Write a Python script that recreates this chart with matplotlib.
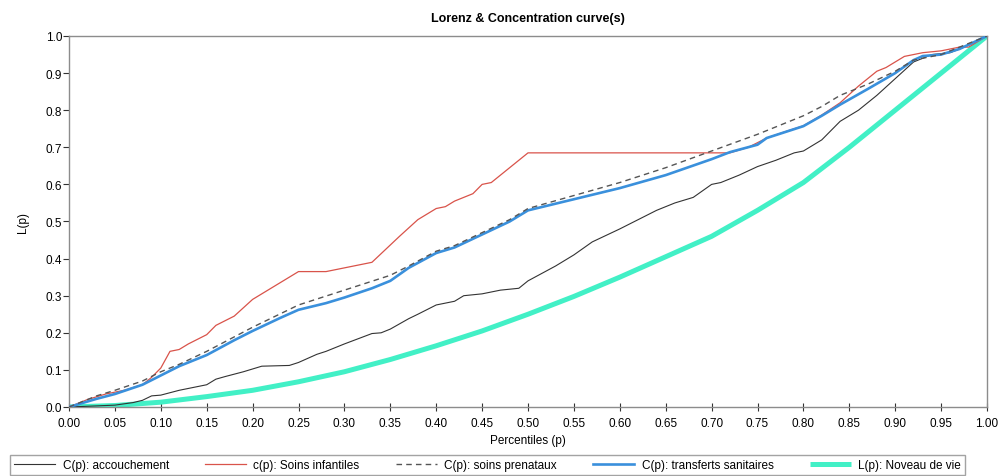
"""lorenz and concentration curves"""

import matplotlib

matplotlib.use("Agg")
import matplotlib.pyplot as plt
from matplotlib.ticker import FormatStrFormatter, MultipleLocator

plt.rcParams["font.family"] = ["Liberation Sans", "DejaVu Sans"]

# C(p): accouchement
p_accouchement = [0, 0.05, 0.07, 0.08, 0.09, 0.10, 0.12, 0.15, 0.16, 0.17, 0.19, 0.21,
                  0.24, 0.25, 0.27, 0.28, 0.30, 0.33, 0.34, 0.35, 0.37, 0.38, 0.40, 0.42,
                  0.43, 0.45, 0.47, 0.49, 0.50, 0.53, 0.55, 0.57, 0.60, 0.62, 0.64, 0.66,
                  0.68, 0.70, 0.71, 0.73, 0.75, 0.77, 0.79, 0.80, 0.82, 0.84, 0.86, 0.88,
                  0.90, 0.92, 0.94, 0.96, 0.98, 1.0]
c_accouchement = [0, 0.005, 0.012, 0.018, 0.03, 0.032, 0.045, 0.06, 0.075, 0.082, 0.095, 0.11,
                  0.112, 0.12, 0.142, 0.15, 0.17, 0.198, 0.2, 0.21, 0.238, 0.25, 0.275, 0.285,
                  0.30, 0.305, 0.315, 0.32, 0.34, 0.38, 0.41, 0.445, 0.48, 0.505, 0.53, 0.55,
                  0.565, 0.60, 0.605, 0.625, 0.648, 0.665, 0.685, 0.69, 0.72, 0.77, 0.80, 0.84,
                  0.885, 0.93, 0.95, 0.955, 0.975, 1.0]

# c(p): Soins infantiles
p_infantiles = [0, 0.02, 0.04, 0.06, 0.08, 0.09, 0.10, 0.11, 0.12, 0.13, 0.15, 0.16, 0.18,
                0.20, 0.21, 0.23, 0.25, 0.28, 0.30, 0.32, 0.33, 0.345, 0.36, 0.38, 0.40,
                0.41, 0.42, 0.44, 0.45, 0.46, 0.48, 0.50, 0.72, 0.74, 0.76, 0.78, 0.80,
                0.82, 0.84, 0.86, 0.88, 0.89, 0.91, 0.93, 0.95, 0.97, 0.98, 1.0]
c_infantiles = [0, 0.02, 0.035, 0.045, 0.06, 0.08, 0.105, 0.15, 0.155, 0.17, 0.195, 0.22, 0.245,
                0.29, 0.305, 0.335, 0.365, 0.365, 0.375, 0.385, 0.39, 0.425, 0.46, 0.505, 0.535,
                0.54, 0.555, 0.575, 0.60, 0.605, 0.645, 0.685, 0.685, 0.70, 0.725, 0.742, 0.758,
                0.787, 0.82, 0.865, 0.905, 0.915, 0.945, 0.955, 0.96, 0.97, 0.97, 1.0]

# C(p): soins prenataux
p_prenataux = [0, 0.03, 0.05, 0.08, 0.10, 0.12, 0.15, 0.20, 0.25, 0.30, 0.35, 0.37, 0.40,
               0.42, 0.45, 0.48, 0.50, 0.55, 0.60, 0.65, 0.70, 0.75, 0.80, 0.82, 0.84, 0.87,
               0.90, 0.92, 0.95, 0.97, 1.0]
c_prenataux = [0, 0.03, 0.045, 0.07, 0.095, 0.115, 0.15, 0.215, 0.275, 0.315, 0.355, 0.38, 0.42,
               0.435, 0.47, 0.505, 0.535, 0.57, 0.605, 0.645, 0.69, 0.735, 0.785, 0.81, 0.84, 0.87,
               0.905, 0.935, 0.95, 0.97, 1.0]

# C(p): transferts sanitaires
p_transferts = [0, 0.03, 0.05, 0.08, 0.10, 0.12, 0.15, 0.18, 0.20, 0.23, 0.25, 0.28, 0.30,
                0.33, 0.35, 0.37, 0.40, 0.42, 0.45, 0.48, 0.50, 0.55, 0.60, 0.65, 0.70, 0.72,
                0.75, 0.76, 0.80, 0.82, 0.84, 0.87, 0.90, 0.92, 0.93, 0.95, 0.97, 1.0]
c_transferts = [0, 0.022, 0.035, 0.06, 0.085, 0.11, 0.14, 0.18, 0.205, 0.24, 0.262, 0.28, 0.295,
                0.32, 0.34, 0.375, 0.415, 0.43, 0.465, 0.50, 0.53, 0.56, 0.59, 0.625, 0.668, 0.687,
                0.707, 0.725, 0.757, 0.785, 0.815, 0.857, 0.90, 0.935, 0.946, 0.95, 0.965, 1.0]

# L(p): Noveau de vie
p_lorenz = [0, 0.05, 0.10, 0.15, 0.20, 0.25, 0.30, 0.35, 0.40, 0.45, 0.50, 0.55, 0.60,
            0.65, 0.70, 0.75, 0.80, 0.85, 0.90, 0.95, 1.0]
l_lorenz = [0, 0.004, 0.013, 0.028, 0.045, 0.068, 0.095, 0.128, 0.165, 0.205, 0.25, 0.298, 0.35,
            0.405, 0.46, 0.53, 0.605, 0.70, 0.80, 0.90, 1.0]

W, H = 998, 477
fig = plt.figure(figsize=(W / 100, H / 100), dpi=100)
ax = fig.add_axes([69 / W, 1 - 408 / H, (987 - 69) / W, (408 - 37) / H])

ax.plot(p_lorenz, l_lorenz, color="#42f0c6", lw=3.6, solid_capstyle="butt", zorder=2,
        label="L(p): Noveau de vie")
ax.plot(p_accouchement, c_accouchement, color="#333333", lw=0.8, zorder=3,
        label="C(p): accouchement")
ax.plot(p_infantiles, c_infantiles, color="#d9534a", lw=0.9, zorder=3,
        label="c(p): Soins infantiles")
ax.plot(p_transferts, c_transferts, color="#3a90dc", lw=1.9, zorder=4,
        label="C(p): transferts sanitaires")
ax.plot(p_prenataux, c_prenataux, color="#555555", lw=1.0, dashes=(4, 3), zorder=5,
        label="C(p): soins prenataux")

ax.set_xlim(0, 1)
ax.set_ylim(0, 1)
ax.xaxis.set_major_locator(MultipleLocator(0.05))
ax.yaxis.set_major_locator(MultipleLocator(0.1))
ax.xaxis.set_major_formatter(FormatStrFormatter("%.2f"))
ax.yaxis.set_major_formatter(FormatStrFormatter("%.1f"))
ax.tick_params(axis="x", direction="inout", length=6, width=0.8, color="#333333",
               labelsize=8.5, pad=4)
ax.tick_params(axis="y", direction="out", length=4, width=0.8, color="#333333",
               labelsize=8.5, pad=1)
for side in ax.spines.values():
    side.set_color("#8c8c8c")
    side.set_linewidth(1.0)

ax.set_title("Lorenz & Concentration curve(s)", fontsize=9, fontweight="bold", pad=11)
ax.set_xlabel("Percentiles (p)", fontsize=8.5, labelpad=4)
ax.set_ylabel("L(p)", fontsize=8.5, labelpad=12)

handles, labels = ax.get_legend_handles_labels()
order = [1, 2, 4, 3, 0]
leg = fig.legend([handles[i] for i in order], [labels[i] for i in order],
                 loc="upper left", bbox_to_anchor=(10 / W, 1 - 456 / H, 955 / W, 0),
                 ncol=5, mode="expand", fontsize=8.5, frameon=True, fancybox=False,
                 handlelength=3.5, handletextpad=0.6, borderpad=0.35, borderaxespad=0)
leg.get_frame().set_edgecolor("#8c8c8c")
leg.get_frame().set_linewidth(1.0)

fig.savefig("out.png", dpi=100)
